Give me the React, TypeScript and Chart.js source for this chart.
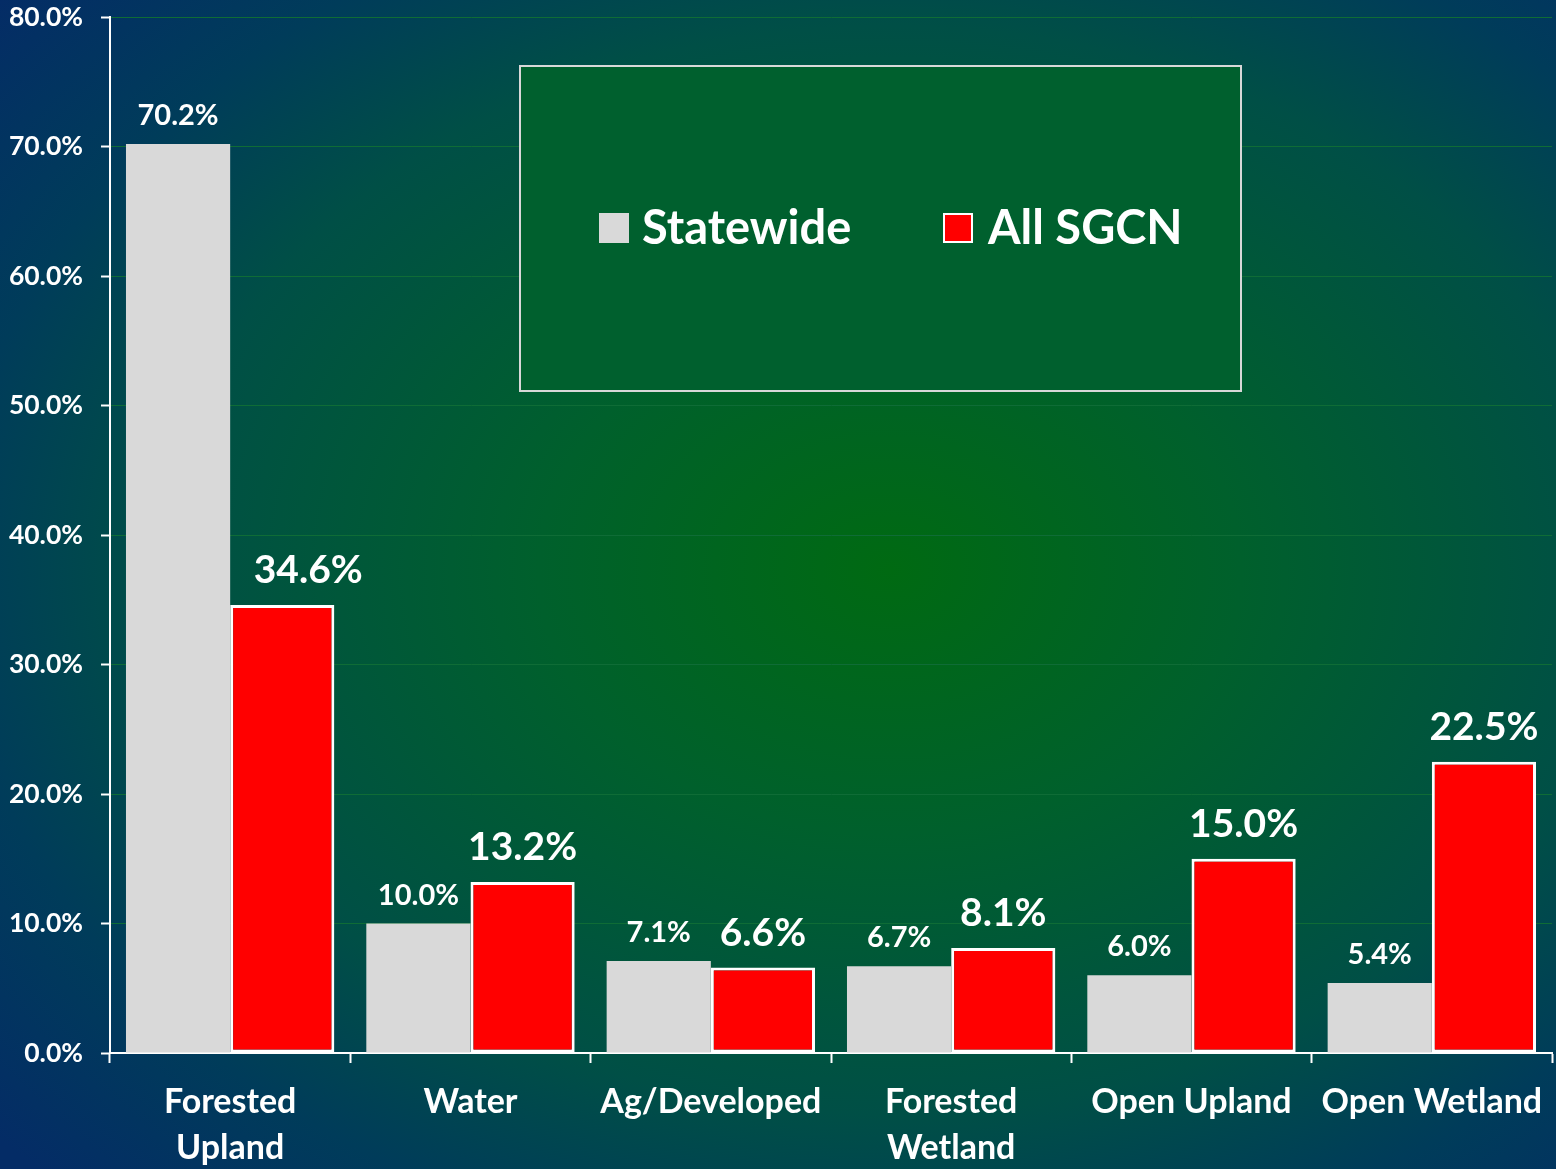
import React, { useEffect, useRef } from "react";
import { Chart, registerables } from "chart.js";

Chart.register(...registerables);

const categories: (string | string[])[] = [
  ["Forested", "Upland"],
  "Water",
  "Ag/Developed",
  ["Forested", "Wetland"],
  "Open Upland",
  "Open Wetland",
];
const statewide = [70.2, 10.0, 7.1, 6.7, 6.0, 5.4];
const allSGCN = [34.6, 13.2, 6.6, 8.1, 15.0, 22.5];
const seriesNames = ["Statewide", "All SGCN"];
const yTicks = { min: 0, max: 80, step: 10 };

const FONT = "Lato, 'Open Sans', sans-serif";

const bgPlugin = {
  id: "bg",
  beforeDraw(chart: any) {
    const { ctx, width, height } = chart;
    const cx = 890, cy = 570, sy = 0.75;
    ctx.save();
    ctx.translate(cx, cy);
    ctx.scale(1, sy);
    const g = ctx.createRadialGradient(0, 0, 0, 0, 0, 1170);
    g.addColorStop(0, "#006a12");
    g.addColorStop(0.3, "#00602c");
    g.addColorStop(0.62, "#004f46");
    g.addColorStop(0.8, "#003c5a");
    g.addColorStop(1, "#042c66");
    ctx.fillStyle = g;
    ctx.fillRect(-cx, -cy / sy, width, height / sy);
    ctx.restore();
  },
};

const labelPlugin = {
  id: "valueLabels",
  afterDatasetsDraw(chart: any) {
    const { ctx } = chart;
    ctx.save();
    ctx.fillStyle = "#ffffff";
    ctx.textAlign = "center";
    ctx.textBaseline = "alphabetic";
    chart.data.datasets.forEach((ds: any, di: number) => {
      const meta = chart.getDatasetMeta(di);
      const size = di === 0 ? 29 : 39;
      const gap = di === 0 ? 19 : 22;
      ctx.font = `bold ${size}px ${FONT}`;
      meta.data.forEach((el: any, i: number) => {
        const v = ds.data[i] as number;
        // first red label is nudged right in the original to clear the tall bar
        const dx = di === 1 && i === 0 ? 26 : 0;
        ctx.fillText(v.toFixed(1) + "%", el.x + dx, el.y - gap);
      });
    });
    ctx.restore();
  },
};

const legendPlugin = {
  id: "boxLegend",
  afterDraw(chart: any) {
    const { ctx } = chart;
    ctx.save();
    ctx.fillStyle = "#00602e";
    ctx.fillRect(520, 66, 721, 325);
    ctx.strokeStyle = "#d8d8d8";
    ctx.lineWidth = 2;
    ctx.strokeRect(520, 66, 721, 325);
    const items = [
      { x: 599, tx: 642 },
      { x: 943, tx: 988 },
    ];
    ctx.font = `bold 47px ${FONT}`;
    ctx.textBaseline = "middle";
    ctx.textAlign = "left";
    chart.data.datasets.forEach((ds: any, i: number) => {
      const it = items[i];
      ctx.fillStyle = ds.backgroundColor;
      ctx.fillRect(it.x, 213, 30, 30);
      if (ds.borderWidth) {
        ctx.strokeStyle = ds.borderColor;
        ctx.lineWidth = 2;
        ctx.strokeRect(it.x + 1, 214, 28, 28);
      }
      ctx.fillStyle = "#ffffff";
      ctx.fillText(ds.label, it.tx, 229);
    });
    ctx.restore();
  },
};

export default function App() {
  const ref = useRef<HTMLCanvasElement | null>(null);
  useEffect(() => {
    if (!ref.current) return;
    const chart = new Chart(ref.current, {
      type: "bar",
      data: {
        labels: categories,
        datasets: [
          {
            label: seriesNames[0],
            data: statewide,
            backgroundColor: "#d9d9d9",
            borderWidth: 0,
          },
          {
            label: seriesNames[1],
            data: allSGCN,
            backgroundColor: "#ff0000",
            borderColor: "#ffffff",
            borderWidth: 3,
            borderSkipped: false,
          },
        ],
      },
      options: {
        animation: false,
        responsive: false,
        layout: { padding: { top: 17, right: 4, left: 0, bottom: 0 } },
        datasets: {
          bar: { categoryPercentage: 0.867, barPercentage: 1.0 },
        },
        plugins: {
          legend: { display: false },
          tooltip: { enabled: false },
        },
        scales: {
          x: {
            grid: {
              drawOnChartArea: false,
              drawTicks: true,
              tickLength: 10,
              tickColor: "#ffffff",
              tickWidth: 2,
              offset: true,
            },
            border: { color: "#ffffff", width: 2 },
            ticks: {
              color: "#ffffff",
              font: { family: FONT, size: 34, weight: "bold", lineHeight: 1.35 },
              padding: 16,
              maxRotation: 0,
              autoSkip: false,
            },
            afterFit(s: any) {
              s.height = 116;
              s.paddingLeft = 0;
              s.paddingRight = 0;
            },
          },
          y: {
            min: yTicks.min,
            max: yTicks.max,
            grid: {
              color: "#0f6c36",
              lineWidth: 1,
              tickColor: "#ffffff",
              tickLength: 9,
              tickWidth: 2,
            },
            border: { color: "#ffffff", width: 2 },
            ticks: {
              stepSize: yTicks.step,
              color: "#ffffff",
              padding: 18,
              font: { family: FONT, size: 26.5, weight: "bold" },
              callback: (v: any) => Number(v).toFixed(1) + "%",
            },
            afterFit(s: any) {
              s.width = 110;
              s.paddingTop = 0;
              s.paddingBottom = 0;
            },
          },
        },
      },
      plugins: [bgPlugin, labelPlugin, legendPlugin],
    });
    return () => chart.destroy();
  }, []);
  return (
    <canvas
      ref={ref}
      width={1556}
      height={1169}
      style={{ position: "absolute", left: 0, top: 0, display: "block" }}
    />
  );
}
